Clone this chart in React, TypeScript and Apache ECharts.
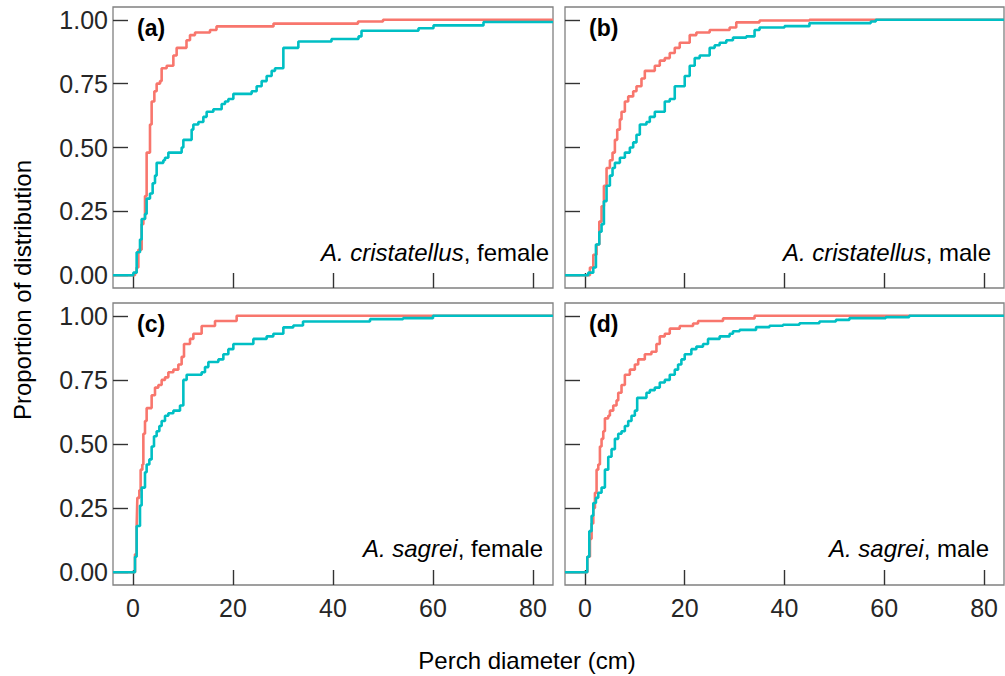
import React, { useEffect, useRef } from "react";
import * as echarts from "echarts";

// Axis limits (coord limits 0-80 with 5% expansion) and tick values
const X_MIN = -4;
const X_MAX = 84;
const Y_MIN = -0.05;
const Y_MAX = 1.05;
const xTicks = [0, 20, 40, 60, 80];
const yTicks = [0, 0.25, 0.5, 0.75, 1];

const panelTags = ["(a)", "(b)", "(c)", "(d)"];
const panelSpecies = ["A. cristatellus", "A. cristatellus", "A. sagrei", "A. sagrei"];
const panelSex = ["female", "male", "female", "male"];

// ECDF steps [perch diameter (cm), cumulative proportion]
const aRed = [
  [0.4, 0.01], [0.73, 0.03], [1.07, 0.1], [1.73, 0.2], [2.07, 0.22], [2.4, 0.31], [2.73, 0.48],
  [3.4, 0.59], [3.73, 0.68], [4.27, 0.72], [4.73, 0.75], [5.4, 0.76], [5.73, 0.81], [6.73, 0.82],
  [8.07, 0.86], [8.73, 0.89], [10.7, 0.92], [11.4, 0.94], [12.4, 0.95], [15.4, 0.96], [16.7, 0.974],
  [28.1, 0.985], [45, 0.993], [50, 1.0],
];
const aTeal = [
  [0.07, 0.01], [0.73, 0.09], [1.4, 0.14], [1.73, 0.22], [2.4, 0.24], [2.73, 0.3], [3.4, 0.32],
  [3.93, 0.36], [4.4, 0.39], [4.73, 0.44], [6.07, 0.45], [6.4, 0.46], [7.07, 0.48], [9.73, 0.5],
  [10.07, 0.53], [11.73, 0.57], [12.07, 0.59], [13.07, 0.6], [14.07, 0.62], [14.73, 0.64],
  [16.07, 0.65], [17.73, 0.67], [18.4, 0.68], [19.07, 0.69], [20.07, 0.71], [23.73, 0.72],
  [24.73, 0.74], [25.73, 0.76], [26.73, 0.78], [27.73, 0.8], [28.4, 0.81], [30.07, 0.89],
  [33.07, 0.915], [39.7, 0.925], [45.1, 0.935], [45.7, 0.957], [57.1, 0.967], [60.1, 0.978],
  [70.1, 0.991],
];
const bRed = [
  [1.0, 0.03], [1.67, 0.08], [2.33, 0.12], [2.87, 0.21], [3.33, 0.27], [3.8, 0.35], [4.33, 0.42],
  [5.0, 0.45], [5.53, 0.48], [6.0, 0.53], [6.47, 0.57], [7.0, 0.61], [7.33, 0.64], [8.0, 0.68],
  [8.67, 0.7], [9.67, 0.72], [10.33, 0.74], [11.33, 0.77], [12.0, 0.8], [14.0, 0.82], [15.0, 0.84],
  [16.0, 0.85], [17.0, 0.87], [18.0, 0.89], [19.0, 0.91], [21.0, 0.94], [22.33, 0.95], [25.0, 0.96],
  [29.0, 0.97], [30.33, 0.99], [35, 0.997], [45, 1.0],
];
const bTeal = [
  [0.67, 0.01], [1.67, 0.03], [2.2, 0.12], [2.87, 0.17], [3.33, 0.2], [3.8, 0.29], [4.33, 0.35],
  [5.0, 0.39], [5.53, 0.42], [6.0, 0.44], [7.0, 0.46], [8.0, 0.48], [9.0, 0.5], [9.67, 0.52],
  [10.33, 0.55], [11.0, 0.59], [12.33, 0.6], [13.0, 0.62], [14.0, 0.64], [16.0, 0.68], [17.0, 0.69],
  [18.0, 0.74], [20.0, 0.78], [21.0, 0.82], [22.0, 0.85], [23.0, 0.86], [25.0, 0.89], [26.0, 0.9],
  [27.0, 0.91], [28.33, 0.92], [29.67, 0.93], [32.33, 0.935], [34, 0.96], [35, 0.97], [40, 0.975],
  [45, 0.987], [57.3, 0.993], [58.3, 1.0],
];
const cRed = [
  [0.4, 0.07], [0.73, 0.18], [0.87, 0.29], [1.27, 0.32], [1.53, 0.4], [1.87, 0.42], [2.07, 0.54],
  [2.4, 0.59], [2.73, 0.64], [3.73, 0.69], [4.4, 0.72], [5.07, 0.73], [5.73, 0.75], [6.4, 0.76],
  [7.07, 0.78], [8.07, 0.79], [9.07, 0.81], [9.73, 0.84], [10.2, 0.89], [11.4, 0.91], [12.07, 0.93],
  [13.73, 0.96], [16.4, 0.98], [20.73, 1.0],
];
const cTeal = [
  [0.4, 0.06], [0.73, 0.18], [1.4, 0.26], [1.73, 0.33], [2.4, 0.39], [2.73, 0.42], [3.27, 0.44],
  [3.73, 0.49], [4.2, 0.53], [4.73, 0.55], [5.27, 0.57], [5.73, 0.59], [6.4, 0.61], [7.07, 0.62],
  [8.07, 0.63], [9.4, 0.65], [10.07, 0.75], [10.73, 0.77], [13.73, 0.78], [14.4, 0.8], [15.07, 0.82],
  [17.07, 0.83], [18.07, 0.85], [19.07, 0.87], [20.07, 0.89], [24.07, 0.91], [26.73, 0.92],
  [28.07, 0.93], [30.07, 0.955], [32.07, 0.962], [34, 0.978], [47.4, 0.987], [54, 0.991], [60, 1.0],
];
const dRed = [
  [0.47, 0.06], [1.0, 0.13], [1.33, 0.19], [1.67, 0.25], [2.0, 0.31], [2.33, 0.4], [2.67, 0.42],
  [3.0, 0.49], [3.33, 0.52], [3.67, 0.55], [4.0, 0.6], [4.67, 0.61], [5.0, 0.63], [5.67, 0.65],
  [6.33, 0.67], [6.67, 0.7], [7.33, 0.73], [8.0, 0.77], [9.0, 0.79], [10.0, 0.81], [10.67, 0.83],
  [12.0, 0.85], [13.33, 0.86], [14.33, 0.89], [15.0, 0.92], [16.0, 0.93], [17.0, 0.95], [19.0, 0.96],
  [21.67, 0.97], [22.67, 0.98], [27.67, 0.99], [34, 1.0],
];
const dTeal = [
  [0.47, 0.06], [0.87, 0.16], [1.33, 0.22], [1.67, 0.27], [2.2, 0.29], [2.67, 0.31], [3.33, 0.33],
  [4.0, 0.4], [4.67, 0.45], [5.33, 0.48], [6.0, 0.52], [6.67, 0.54], [7.33, 0.55], [8.0, 0.57],
  [8.67, 0.59], [9.33, 0.61], [10.0, 0.63], [10.47, 0.68], [12.33, 0.7], [13.0, 0.71], [14.0, 0.72],
  [15.0, 0.74], [16.0, 0.75], [17.0, 0.77], [18.0, 0.79], [18.67, 0.81], [19.33, 0.83], [20.0, 0.85],
  [21.33, 0.87], [22.33, 0.88], [23.67, 0.89], [24.67, 0.91], [27.0, 0.92], [29.0, 0.93],
  [29.67, 0.94], [31.0, 0.945], [34.3, 0.956], [37, 0.961], [39.7, 0.965], [43, 0.971], [47, 0.978],
  [50.3, 0.984], [53, 0.991], [60.3, 0.995], [65, 1.0],
];

const redSeries = [aRed, bRed, cRed, dRed];
const tealSeries = [aTeal, bTeal, cTeal, dTeal];

const RED = "#F8766D";
const TEAL = "#00BFC4";
const FONT = "'Liberation Sans', Arial, Helvetica, sans-serif";

const grids = [
  { left: 113, top: 7, width: 440, height: 281 },
  { left: 565, top: 7, width: 439, height: 281 },
  { left: 113, top: 303, width: 440, height: 282 },
  { left: 565, top: 303, width: 439, height: 282 },
];
const speciesRight = [549, 991, 543, 989];
const speciesY = [252, 252, 548, 548];

function padEcdf(pts: number[][]) {
  const last = pts[pts.length - 1][1];
  return [[X_MIN, 0], ...pts, [X_MAX, last]];
}

export default function App() {
  const ref = useRef<HTMLDivElement>(null);
  useEffect(() => {
    if (!ref.current) return;
    const chart = echarts.init(ref.current, null, { renderer: "svg" });
    const tickStyle = { show: true, inside: true, length: 15, lineStyle: { color: "#333", width: 1.4 } };
    const option: any = {
      animation: false,
      backgroundColor: "#fff",
      grid: grids.map((g) => ({ ...g, show: true, borderColor: "#808080", borderWidth: 1.3, backgroundColor: "transparent" })),
      xAxis: grids.map((_, i) => ({
        type: "value",
        gridIndex: i,
        min: X_MIN,
        max: X_MAX,
        axisLine: { show: false, onZero: false },
        splitLine: { show: false },
        axisTick: { ...tickStyle, customValues: xTicks },
        axisLabel: {
          show: i >= 2,
          customValues: xTicks,
          margin: 10,
          fontSize: 25,
          fontFamily: FONT,
          color: "#262626",
        },
      })),
      yAxis: grids.map((_, i) => ({
        type: "value",
        gridIndex: i,
        min: Y_MIN,
        max: Y_MAX,
        axisLine: { show: false, onZero: false },
        splitLine: { show: false },
        axisTick: { ...tickStyle, customValues: yTicks },
        axisLabel: {
          show: i % 2 === 0,
          customValues: yTicks,
          margin: 5,
          fontSize: 25,
          fontFamily: FONT,
          color: "#262626",
          formatter: (v: number) => v.toFixed(2),
        },
      })),
      series: [
        ...redSeries.map((d, i) => ({
          type: "line",
          name: "red",
          xAxisIndex: i,
          yAxisIndex: i,
          step: "end",
          symbol: "none",
          data: padEcdf(d),
          lineStyle: { color: RED, width: 2.6 },
          z: 1,
        })),
        ...tealSeries.map((d, i) => ({
          type: "line",
          name: "teal",
          xAxisIndex: i,
          yAxisIndex: i,
          step: "end",
          symbol: "none",
          data: padEcdf(d),
          lineStyle: { color: TEAL, width: 2.6 },
          z: 2,
        })),
      ],
      graphic: [
        ...grids.map((g, i) => ({
          type: "text",
          x: g.left + 24,
          y: g.top + 21,
          style: {
            text: panelTags[i],
            fontSize: 23,
            fontWeight: "bold",
            fontFamily: FONT,
            fill: "#000",
            textVerticalAlign: "middle",
            verticalAlign: "middle",
          },
        })),
        ...grids.map((g, i) => ({
          type: "text",
          x: speciesRight[i],
          y: speciesY[i],
          style: {
            text: "{i|" + panelSpecies[i] + "}, " + panelSex[i],
            rich: { i: { fontStyle: "italic", fontSize: 24, fontFamily: FONT, fill: "#000" } },
            fontSize: 24,
            fontFamily: FONT,
            fill: "#000",
            textAlign: "right",
            align: "right",
            textVerticalAlign: "middle",
            verticalAlign: "middle",
          },
        })),
        {
          type: "text",
          x: 527,
          y: 660,
          style: {
            text: "Perch diameter (cm)",
            fontSize: 24,
            fontFamily: FONT,
            fill: "#000",
            textAlign: "center",
            align: "center",
            textVerticalAlign: "middle",
            verticalAlign: "middle",
          },
        },
        {
          type: "text",
          x: 22,
          y: 290,
          rotation: Math.PI / 2,
          style: {
            text: "Proportion of distribution",
            fontSize: 24,
            fontFamily: FONT,
            fill: "#000",
            textAlign: "center",
            align: "center",
            textVerticalAlign: "middle",
            verticalAlign: "middle",
          },
        },
      ],
    };
    chart.setOption(option);
    return () => chart.dispose();
  }, []);
  return (
    <div
      ref={ref}
      style={{ position: "absolute", left: 0, top: 0, width: 1005, height: 676, background: "#fff" }}
    />
  );
}
